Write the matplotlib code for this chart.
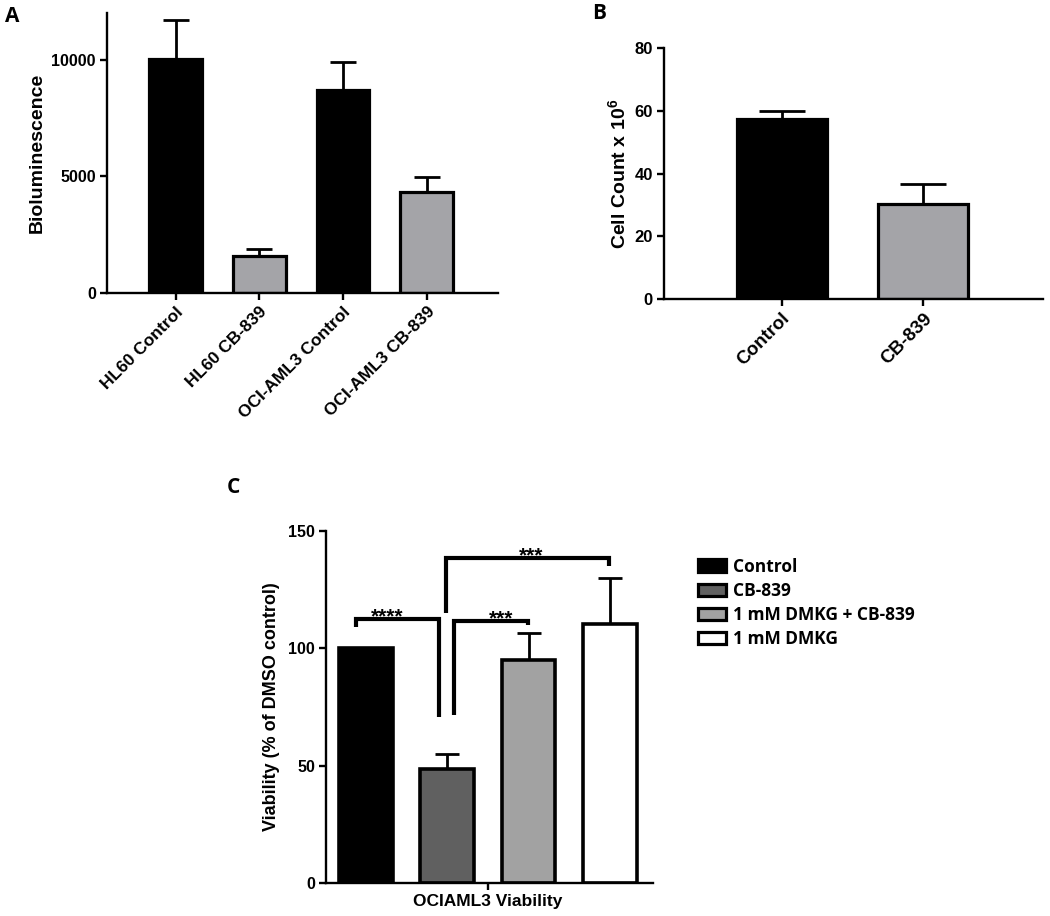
import matplotlib
matplotlib.use("Agg")
import matplotlib.pyplot as plt
from matplotlib.patches import Patch

plt.rcParams['font.family'] = ['Liberation Sans', 'DejaVu Sans']
plt.rcParams['font.weight'] = 'bold'
plt.rcParams['mathtext.fontset'] = 'custom'
plt.rcParams['mathtext.rm'] = 'Liberation Sans:bold'
plt.rcParams['mathtext.bf'] = 'Liberation Sans:bold'
plt.rcParams['mathtext.default'] = 'rm'

# ---- data ----
# panel A
a_labels = ['HL60 Control', 'HL60 CB-839', 'OCI-AML3 Control', 'OCI-AML3 CB-839']
a_values = [10050, 1600, 8710, 4320]
a_err = [1650, 275, 1190, 670]
a_colors = ['black', '#a4a4a8', 'black', '#a4a4a8']

# panel B
b_labels = ['Control', 'CB-839']
b_values = [57.4, 30.2]
b_err = [2.6, 6.4]
b_colors = ['black', '#a4a4a8']

# panel C
c_labels = ['Control', 'CB-839', '1 mM DMKG + CB-839', '1 mM DMKG']
c_values = [100.2, 48.6, 95.0, 110.3]
c_err = [0, 6.3, 11.4, 19.6]
c_colors = ['black', '#606060', '#a2a2a2', 'white']
c_xlabel = 'OCIAML3 Viability'
# significance brackets: (x_left, y_left_end, x_right, y_right_end, y_top, text, text_x, text_y)
c_sig = [
    (-0.12, 109.0, 0.90, 70.7, 112.5, '****', 0.26, 110.8),
    (1.08, 71.7, 1.99, 109.8, 111.7, '***', 1.66, 110.1),
    (0.99, 115.0, 2.99, 135.2, 138.6, '***', 2.03, 137.1),
]

fig = plt.figure(figsize=(10.5, 9.16), dpi=100)


def style_axes(ax):
    for s in ['top', 'right']:
        ax.spines[s].set_visible(False)
    for s in ['left', 'bottom']:
        ax.spines[s].set_linewidth(1.7)
    ax.tick_params(direction='out', length=5, width=1.7, pad=3)


def draw_bars(ax, values, err, colors, width, capsize):
    x = list(range(len(values)))
    ax.errorbar(x, values, yerr=[[0] * len(err), err], fmt='none', ecolor='black',
                elinewidth=2.0, capsize=capsize, capthick=2.0, zorder=1)
    ax.bar(x, values, width=width, color=colors, edgecolor='black', linewidth=2.3, zorder=2)
    return x


# ---- panel A ----
axA = fig.add_axes([0.1019, 0.6801, 0.3724, 0.3057])
xa = draw_bars(axA, a_values, a_err, a_colors, 0.63, 9.7)
axA.set_xlim(-0.82, 3.85)
axA.set_ylim(0, 12000)
axA.set_yticks([0, 5000, 10000])
axA.set_xticks(xa)
axA.set_xticklabels(a_labels, rotation=45, ha='right', rotation_mode='anchor', fontsize=12.5)
axA.tick_params(axis='y', labelsize=11.5)
axA.set_ylabel('Bioluminescence', fontsize=14, fontweight='bold', labelpad=4)
style_axes(axA)

# ---- panel B ----
axB = fig.add_axes([0.6324, 0.6736, 0.3609, 0.2737])
xb = draw_bars(axB, b_values, b_err, b_colors, 0.634, 16.9)
axB.set_xlim(-0.83, 1.845)
axB.set_ylim(0, 80)
axB.set_yticks([0, 20, 40, 60, 80])
axB.set_xticks(xb)
axB.set_xticklabels(b_labels, rotation=45, ha='right', rotation_mode='anchor', fontsize=13.5)
axB.tick_params(axis='y', labelsize=12)
axB.set_ylabel(r'Cell Count x 10$^{6}$', fontsize=14, fontweight='bold', labelpad=4)
style_axes(axB)

# ---- panel C ----
axC = fig.add_axes([0.3105, 0.0357, 0.3114, 0.3849])
xc = list(range(len(c_values)))
axC.errorbar(xc[1:], c_values[1:], yerr=[[0] * 3, c_err[1:]], fmt='none', ecolor='black',
             elinewidth=2.0, capsize=8.6, capthick=2.0, zorder=1)
axC.bar(xc, c_values, width=0.66, color=c_colors, edgecolor='black', linewidth=2.6, zorder=2)
axC.set_xlim(-0.49, 3.53)
axC.set_ylim(0, 150)
axC.set_yticks([0, 50, 100, 150])
axC.set_xticks([1.5])
axC.set_xticklabels([c_xlabel], fontsize=12.5)
axC.tick_params(axis='y', labelsize=11.5)
axC.set_ylabel('Viability (% of DMSO control)', fontsize=13, fontweight='bold', labelpad=6)
style_axes(axC)

for xl, yl, xr, yr, yt, txt, tx, ty in c_sig:
    axC.plot([xl, xl, xr, xr], [yl, yt, yt, yr], color='black', lw=3.0,
             solid_capstyle='butt', solid_joinstyle='miter', clip_on=False, zorder=3)
    axC.text(tx, ty, txt, ha='center', va='baseline', fontsize=15, fontweight='bold')

handles = [Patch(facecolor=c, edgecolor='black', linewidth=2.3) for c in c_colors]
fig.legend(handles, c_labels, loc='upper left', bbox_to_anchor=(0.6648, 0.391),
           frameon=False, prop={'family': 'Open Sans', 'weight': 'bold', 'size': 12.5},
           handlelength=1.6, handleheight=0.75, handletextpad=0.4, labelspacing=0.35,
           borderpad=0, borderaxespad=0)

# panel letters
for lbl, x, y in [('A', 0.005, 0.993), ('B', 0.564, 0.997), ('C', 0.216, 0.479)]:
    fig.text(x, y, lbl, fontsize=15, fontweight='bold', family='Open Sans', va='top')

fig.savefig('out.png', dpi=100)
